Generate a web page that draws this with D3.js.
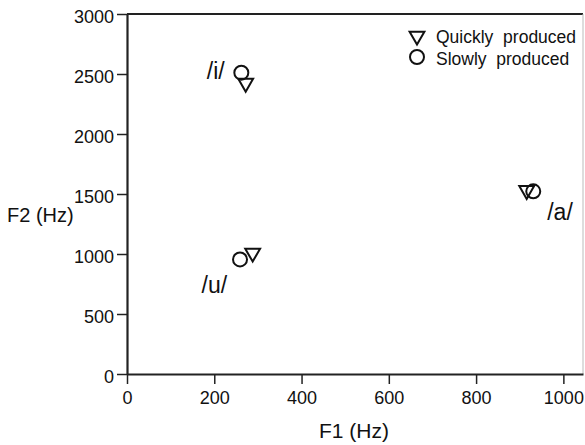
<!DOCTYPE html>
<html>
<head>
<meta charset="utf-8">
<script src="https://cdn.jsdelivr.net/npm/d3@7"></script>
<style>
  body { margin: 0; background: #fff; }
  svg text { font-family: "Liberation Sans", Arial, sans-serif; fill: #111; }
</style>
</head>
<body>
<div id="container"></div>
<script>
/* DATA */
const vowels = ["/i/", "/a/", "/u/"];
const quickF1 = [272, 916, 288];
const quickF2 = [2424, 1530, 1008];
const slowF1 = [262, 931, 259];
const slowF2 = [2511, 1522, 955];
// where the vowel labels sit (in Hz, text start / baseline)
const labelF1 = [183, 963, 171];
const labelF2 = [2458, 1283, 675];
const xTicks = [0, 200, 400, 600, 800, 1000];
const yTicks = [0, 500, 1000, 1500, 2000, 2500, 3000];
const legendNames = ["Quickly  produced", "Slowly  produced"];

/* CONSTANTS */
const width = 585, height = 445;
const margin = { top: 14, bottom: 71, left: 127, right: 2 };

const svg = d3.select("#container").append("svg")
  .attr("width", width)
  .attr("height", height);

/* SCALES */
const xScale = d3.scaleLinear()
  .domain([0, 1045])
  .range([margin.left, width - margin.right]);

const yScale = d3.scaleLinear()
  .domain([0, 3000])
  .range([height - margin.bottom, margin.top]);

// frame: top dark, right light
svg.append("line")
  .attr("x1", xScale(0)).attr("x2", xScale(1045))
  .attr("y1", yScale(3000)).attr("y2", yScale(3000))
  .attr("stroke", "#222").attr("stroke-width", 2);
svg.append("line")
  .attr("x1", xScale(1045)).attr("x2", xScale(1045))
  .attr("y1", yScale(3000)).attr("y2", yScale(0))
  .attr("stroke", "#bbb").attr("stroke-width", 1);

/* AXES */
const xAxis = d3.axisBottom(xScale).tickValues(xTicks).tickFormat(d3.format("d"))
  .tickSize(10).tickPadding(7).tickSizeOuter(0);
const yAxis = d3.axisLeft(yScale).tickValues(yTicks).tickFormat(d3.format("d"))
  .tickSize(10).tickPadding(3).tickSizeOuter(0);

const gx = svg.append("g")
  .attr("transform", `translate(0,${yScale(0)})`)
  .call(xAxis);
const gy = svg.append("g")
  .attr("transform", `translate(${xScale(0)},0)`)
  .call(yAxis);

[gx, gy].forEach(g => {
  g.select(".domain").attr("stroke", "#222").attr("stroke-width", 2.2);
  g.selectAll(".tick line").attr("stroke", "#222").attr("stroke-width", 1.5);
  g.selectAll(".tick text").attr("font-size", 18).attr("fill", "#111")
    .attr("font-family", "Liberation Sans, Arial, sans-serif");
});
gy.selectAll(".tick text").attr("dy", "0.45em");

// axis titles
svg.append("text")
  .attr("x", 319)
  .attr("y", 438)
  .attr("font-size", 21)
  .text("F1 (Hz)");

svg.append("text")
  .attr("x", 7)
  .attr("y", 222)
  .attr("font-size", 20)
  .text("F2 (Hz)");

/* MARKS */
const tri = d3.symbol().type(d3.symbolTriangle).size(95);
const rows = vowels.map((v, i) => ({
  v, qx: quickF1[i], qy: quickF2[i], sx: slowF1[i], sy: slowF2[i], lx: labelF1[i], ly: labelF2[i]
}));

svg.selectAll(".quick")
  .data(rows)
  .join("path")
  .attr("class", "quick")
  .attr("d", tri)
  .attr("transform", d => `translate(${xScale(d.qx)},${yScale(d.qy)}) rotate(180)`)
  .attr("fill", "none")
  .attr("stroke", "#111")
  .attr("stroke-width", 2);

svg.selectAll(".slow")
  .data(rows)
  .join("circle")
  .attr("class", "slow")
  .attr("cx", d => xScale(d.sx))
  .attr("cy", d => yScale(d.sy))
  .attr("r", 7)
  .attr("fill", "none")
  .attr("stroke", "#111")
  .attr("stroke-width", 2);

svg.selectAll(".vlabel")
  .data(rows)
  .join("text")
  .attr("class", "vlabel")
  .attr("x", d => xScale(d.lx))
  .attr("y", d => yScale(d.ly))
  .attr("font-size", 23)
  .text(d => d.v);

/* LEGEND */
const legend = svg.append("g").attr("transform", "translate(417,36)");
legend.append("path")
  .attr("d", tri)
  .attr("transform", "rotate(180)")
  .attr("fill", "none").attr("stroke", "#111").attr("stroke-width", 2);
legend.append("circle")
  .attr("cy", 21).attr("r", 7)
  .attr("fill", "none").attr("stroke", "#111").attr("stroke-width", 2);
legend.selectAll(".ltext")
  .data(legendNames)
  .join("text")
  .attr("class", "ltext")
  .attr("x", 19)
  .attr("y", (d, i) => 7 + i * 22)
  .attr("font-size", 17.5)
  .style("white-space", "pre")
  .text(d => d);
</script>
</body>
</html>
